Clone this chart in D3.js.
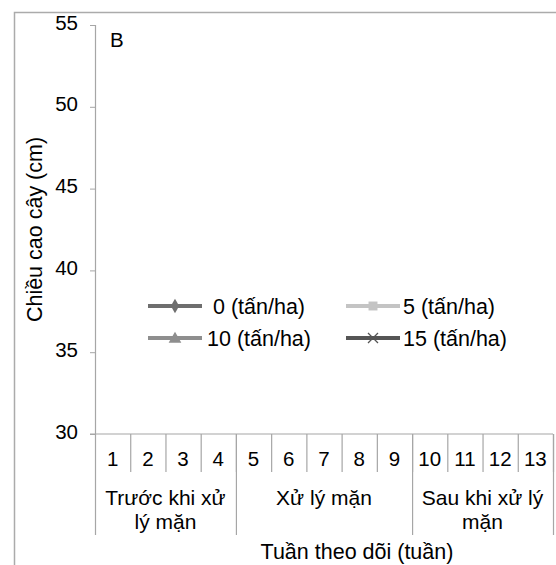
<!DOCTYPE html>
<html>
<head>
<meta charset="utf-8">
<script src="https://cdn.jsdelivr.net/npm/d3@7"></script>
<style>
  body { margin: 0; background: #fff; }
  svg { display: block; font-family: "Liberation Sans", Arial, sans-serif; }
  .axis path, .axis line { stroke: #a6a6a6; }
  text { fill: #000; }
</style>
</head>
<body>
<svg width="556" height="565"></svg>
<script>
// weeks on the x axis and the three treatment phases
var weeks = ["1", "2", "3", "4", "5", "6", "7", "8", "9", "10", "11", "12", "13"];
var phases = [
  {label: ["Trước khi xử", "lý mặn"], first: "1", last: "4"},
  {label: ["Xử lý mặn"], first: "5", last: "9"},
  {label: ["Sau khi xử lý", "mặn"], first: "10", last: "13"}
];
var yTicks = [30, 35, 40, 45, 50, 55];

// series (no points are plotted in panel B)
var s0 = [null, null, null, null, null, null, null, null, null, null, null, null, null];
var s5 = [null, null, null, null, null, null, null, null, null, null, null, null, null];
var s10 = [null, null, null, null, null, null, null, null, null, null, null, null, null];
var s15 = [null, null, null, null, null, null, null, null, null, null, null, null, null];
var seriesNames = ["0 (tấn/ha)", "5 (tấn/ha)", "10 (tấn/ha)", "15 (tấn/ha)"];

var series = [
  {name: seriesNames[0], values: s0, color: "#6e6e6e", marker: "diamond"},
  {name: seriesNames[1], values: s5, color: "#c4c4c4", marker: "square"},
  {name: seriesNames[2], values: s10, color: "#8e8e8e", marker: "triangle"},
  {name: seriesNames[3], values: s15, color: "#555555", marker: "cross"}
];

var svg = d3.select("svg"),
    margin = {top: 25, right: 3, bottom: 131, left: 95},
    width = +svg.attr("width") - margin.left - margin.right,
    height = +svg.attr("height") - margin.top - margin.bottom;

var fs = 21.5;

// outer chart border (cropped on the right and bottom)
svg.append("path")
    .attr("d", "M14.5,566V12.5H557")
    .attr("fill", "none")
    .attr("stroke", "#ababab")
    .attr("stroke-width", 1.5);

var x = d3.scaleBand().domain(weeks).range([0, width]),
    y = d3.scaleLinear().domain([30, 55]).range([height, 0]);

var g = svg.append("g")
    .attr("transform", "translate(" + margin.left + "," + margin.top + ")");

// y axis
var yAxis = g.append("g").attr("class", "axis")
    .call(d3.axisLeft(y).tickValues(yTicks).tickSize(5).tickPadding(12));
yAxis.selectAll("text").attr("font-size", 20.5).attr("dy", "0.2em");
yAxis.select(".domain").attr("d", "M0.5," + y(55) + "V" + y(30)).attr("stroke-width", 1.2);

// x axis line
g.append("line")
    .attr("x1", -5).attr("x2", width)
    .attr("y1", y(30)).attr("y2", y(30))
    .attr("stroke", "#a6a6a6").attr("stroke-width", 1.2);

// week separators
g.selectAll(".wsep")
  .data(weeks)
  .enter().append("line")
    .attr("x1", function(d) { return x(d) + x.bandwidth() + 0.5; })
    .attr("x2", function(d) { return x(d) + x.bandwidth() + 0.5; })
    .attr("y1", height).attr("y2", height + 38)
    .attr("stroke", "#a6a6a6").attr("stroke-width", 1.2);

// week labels
g.selectAll(".wlab")
  .data(weeks)
  .enter().append("text")
    .attr("x", function(d) { return x(d) + x.bandwidth() / 2; })
    .attr("y", height + 32)
    .attr("text-anchor", "middle")
    .attr("font-size", 20.5)
    .text(function(d) { return d; });

// phase separators
var phaseEdges = [x(phases[0].first)].concat(phases.map(function(p) { return x(p.last) + x.bandwidth(); }));
g.selectAll(".psep")
  .data(phaseEdges)
  .enter().append("line")
    .attr("x1", function(d) { return d + 0.5; })
    .attr("x2", function(d) { return d + 0.5; })
    .attr("y1", height).attr("y2", height + 101)
    .attr("stroke", "#a6a6a6").attr("stroke-width", 1.2);

// phase labels
phases.forEach(function(p) {
  var cx = (x(p.first) + x(p.last) + x.bandwidth()) / 2;
  g.append("text")
    .attr("x", cx)
    .attr("y", height + 71)
    .attr("text-anchor", "middle")
    .attr("font-size", 21)
    .selectAll("tspan")
    .data(p.label)
    .enter().append("tspan")
      .attr("x", cx)
      .attr("dy", function(d, i) { return i ? 24 : 0; })
      .text(function(d) { return d; });
});

// lines (nothing to draw when values are missing)
var line = d3.line()
    .defined(function(d) { return d != null; })
    .x(function(d, i) { return x(weeks[i]) + x.bandwidth() / 2; })
    .y(function(d) { return y(d); });

series.forEach(function(s) {
  g.append("path")
    .attr("d", line(s.values))
    .attr("fill", "none")
    .attr("stroke", s.color)
    .attr("stroke-width", 3);
});

// axis titles
svg.append("text")
    .attr("transform", "translate(42," + (margin.top + height / 2) + ") rotate(-90)")
    .attr("text-anchor", "middle")
    .attr("font-size", fs)
    .text("Chiều cao cây (cm)");

svg.append("text")
    .attr("x", 357)
    .attr("y", 559)
    .attr("text-anchor", "middle")
    .attr("font-size", fs)
    .text("Tuần theo dõi (tuần)");

svg.append("text")
    .attr("x", 110)
    .attr("y", 47)
    .attr("font-size", 20.5)
    .text("B");

// legend
var symbols = {
  diamond: d3.symbol().type(d3.symbolDiamond).size(60),
  square: d3.symbol().type(d3.symbolSquare).size(80),
  triangle: d3.symbol().type(d3.symbolTriangle).size(70)
};
var legendPos = [
  {x: 148, y: 306, tx: 213},
  {x: 346, y: 306, tx: 403},
  {x: 148, y: 338, tx: 207},
  {x: 346, y: 338, tx: 403}
];

var legend = svg.selectAll(".legend")
  .data(series)
  .enter().append("g")
    .attr("class", "legend")
    .attr("transform", function(d, i) { return "translate(" + legendPos[i].x + "," + legendPos[i].y + ")"; });

legend.append("line")
    .attr("x1", 0).attr("x2", 54)
    .attr("stroke", function(d) { return d.color; })
    .attr("stroke-width", 4);

legend.each(function(d) {
  var el = d3.select(this);
  if (d.marker === "cross") {
    el.append("path")
      .attr("d", "M22,-5L32,5M22,5L32,-5")
      .attr("stroke", "#555").attr("stroke-width", 1.3);
  } else {
    el.append("path")
      .attr("transform", "translate(27," + (d.marker === "triangle" ? 1 : 0) + ")")
      .attr("d", symbols[d.marker]())
      .attr("fill", d.color);
  }
});

legend.append("text")
    .attr("x", function(d, i) { return legendPos[i].tx - legendPos[i].x; })
    .attr("dy", "0.35em")
    .attr("font-size", fs)
    .text(function(d) { return d.name; });
</script>
</body>
</html>
